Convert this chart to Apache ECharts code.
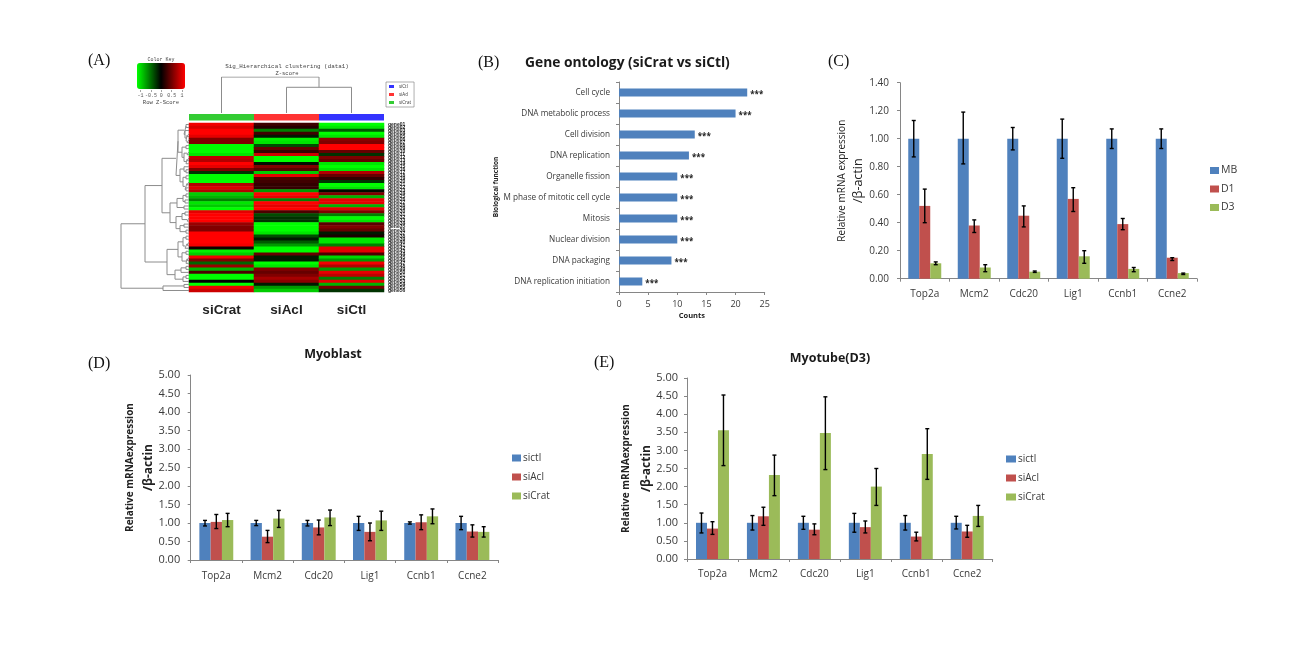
<!DOCTYPE html>
<html><head><meta charset="utf-8">
<style>html,body{margin:0;padding:0;background:#fff}#c{width:1295px;height:652px}</style>
<script src="https://cdn.jsdelivr.net/npm/echarts@6/dist/echarts.min.js"></script>
</head><body><div id="c"></div>
<script>
// ---------- Panel A data ----------
const heatColumns = ['siCrat','siAcl','siCtl'];
const heatCrat = [.95,.85,1,1,.9,.5,.5,-1,-1,-1,-.9,.75,.7,1,.9,.5,-.2,-1,-1,-1,.7,.85,.7,-.8,-.7,-.5,-.9,-.8,-1,.9,1,1,1,.6,.5,.5,1,1,1,1,.95,.05,-.95,-.8,.95,.5,-.4,.6,-.7,.3,-1,-1,0,-1,.95,.8];
const heatAcl = [.25,.15,-.5,.25,-.1,-.95,-.9,-.3,.4,.2,.8,-1,-1,-.05,.5,.35,-.8,.9,.3,.25,.2,.2,-.6,1,.9,-.5,1,.9,1,.3,-.3,-.2,-.2,-1,-1,-1,-.9,-.3,-.1,-.35,-.6,-1,-1,.4,-.1,-.1,-1,-.9,.5,.4,.5,.65,.55,-.1,-.6,-.8];
const heatCtl = [-1,-.9,-.35,-1,-.9,.55,.5,1,1,.4,-.2,.5,.4,-.9,-1,-.9,.7,.4,.2,-.2,-1,-.9,-.05,.5,-.7,.9,.9,-.7,.9,.5,-.5,-1,-.9,.35,.5,.4,-.1,.1,-.9,-.9,-.5,.9,.9,.3,-.85,-.6,.95,.7,-.6,.9,.75,-.5,.9,-.7,.45,-.2];
const rowNames = heatCrat.map((v,i)=>'gene'+String(i+1).padStart(2,'0'));
const groupNames = ['siCtl','siAcl','siCrat'];
const colorKeyTicks = [-1,-0.5,0,0.5,1];
// dendrogram trees: [merge height, child, child]; a bare number is a row index
const rowTree = [68,
  [44,
    [27,
      [13,
        [11,
          [5,[3,0,1],[4,2,[3,[2,3,4],[2,5,6]]]],
          [7,[3,7,8],[5,[2,9,10],[3,[2,11,12],13]]]],
        [9,[5,14,[3,15,16]],[6,[3,17,18],[4,[2,19,20],[3,21,22]]]]],
      [19,
        [12,[6,[3,23,24],[4,25,26]],[5,27,28]],
        [13,[7,[4,29,30],[2,31,32]],[9,[5,33,34],[3,35,36]]]]],
    [22,
      [11,[6,[3,37,38],[4,[2,39,40],41]],[7,[3,42,43],[3,[2,44,45],46]]],
      [14,[8,[3,47,48],49],[6,[3,50,51],52]]]],
  [26,[5,53,54],55]];
const colTree = [35,0,[25,1,2]];

// ---------- Panel B data ----------
const goTerms = ['Cell cycle','DNA metabolic process','Cell division','DNA replication','Organelle fission','M phase of mitotic cell cycle','Mitosis','Nuclear division','DNA packaging','DNA replication initiation'];
const goCounts = [22,20,13,12,10,10,10,10,9,4];

// ---------- Panels C, D, E data ----------
const genes = ['Top2a','Mcm2','Cdc20','Lig1','Ccnb1','Ccne2'];
const genesE = ['Top2a','Mcm2','Cdc20','Lig1','Ccnb1','Ccne2'];
const cNames = ['MB','D1','D3'];
const cMB = [1,1,1,1,1,1], cMBLow=[.87,.82,.92,.86,.93,.93], cMBHigh=[1.13,1.19,1.08,1.14,1.07,1.07];
const cD1 = [.52,.38,.45,.57,.39,.15], cD1Low=[.40,.33,.37,.48,.35,.13], cD1High=[.64,.42,.52,.65,.43,.15];
const cD3 = [.11,.08,.05,.16,.07,.04], cD3Low=[.10,.05,.045,.11,.05,.03], cD3High=[.12,.10,.055,.20,.08,.04];
const siNames = ['sictl','siAcl','siCrat'];
const dCtl = [1,1,1,1,1,1], dCtlLow=[.92,.93,.92,.80,.97,.82], dCtlHigh=[1.07,1.07,1.07,1.18,1.03,1.18];
const dAcl = [1.03,.63,.88,.76,1.02,.77], dAclLow=[.85,.47,.68,.52,.82,.62], dAclHigh=[1.23,.80,1.08,1.0,1.22,.95];
const dCrat = [1.08,1.12,1.15,1.07,1.18,.76], dCratLow=[.90,.88,.93,.80,.98,.62], dCratHigh=[1.26,1.34,1.35,1.32,1.38,.90];
const eCtl = [1,1,1,1,1,1], eCtlLow=[.72,.80,.82,.74,.80,.83], eCtlHigh=[1.27,1.20,1.18,1.26,1.20,1.18];
const eAcl = [.84,1.18,.81,.88,.62,.76], eAclLow=[.68,.93,.67,.72,.50,.60], eAclHigh=[1.03,1.43,.97,1.05,.74,.93];
const eCrat = [3.56,2.32,3.48,2.0,2.9,1.19], eCratLow=[2.58,1.75,2.47,1.48,2.2,.9], eCratHigh=[4.53,2.87,4.48,2.5,3.6,1.48];

// ---------- Styling ----------
const BLUE='#4f81bd', RED='#c0504d', GREEN='#9bbb59', AXIS='#868686', TXT='#3a3a3a';
const FONT='"Open Sans","Noto Sans",sans-serif';
const series=[], grids=[], xAxes=[], yAxes=[];
function addGrid(g,x,y){grids.push(g);const i=grids.length-1;xAxes.push(Object.assign({gridIndex:i},x));yAxes.push(Object.assign({gridIndex:i},y));return i;}
const hidden={type:'value',show:false,splitLine:{show:false}};

// tree -> line segments with null gaps
function treeSegs(tree,horizontalLeaves){
  const pts=[];
  (function walk(n){
    if(typeof n==='number') return {h:0,p:n+0.5};
    const a=walk(n[1]),b=walk(n[2]);
    const seg=[[a.h,a.p],[n[0],a.p],[n[0],b.p],[b.h,b.p]];
    seg.forEach(s=>pts.push(horizontalLeaves?[s[1],s[0]]:s));
    pts.push(['-','-']);
    return {h:n[0],p:(a.p+b.p)/2};
  })(tree);
  return pts;
}

// Panel A heatmap
const hm=addGrid({left:189,top:123,width:195,height:169},
 {type:'category',data:heatColumns,position:'bottom',axisLine:{show:false},axisTick:{show:false},splitLine:{show:false},
  axisLabel:{margin:11,color:'#222',fontFamily:'"Liberation Sans",sans-serif',fontWeight:'bold',fontSize:13.5}},
 {type:'category',data:rowNames,inverse:true,position:'right',axisLine:{show:false},axisTick:{show:false},splitLine:{show:false},
  axisLabel:{interval:0,margin:4,fontSize:5,color:'#1c1c1c',fontFamily:'"Liberation Sans",sans-serif',fontWeight:'bold'}});
const heatData=[];
[heatCrat,heatAcl,heatCtl].forEach((col,c)=>col.forEach((v,r)=>heatData.push([c,r,v])));
series.push({type:'heatmap',xAxisIndex:hm,yAxisIndex:hm,data:heatData,progressive:0,silent:true});
const heatIndex=series.length-1;

// Panel A dendrograms
const den=addGrid({left:121,top:123,width:68,height:169},Object.assign({},hidden,{min:0,max:68,inverse:true}),Object.assign({},hidden,{min:0,max:heatCrat.length,inverse:true}));
series.push({type:'line',xAxisIndex:den,yAxisIndex:den,data:treeSegs(rowTree,false),showSymbol:false,silent:true,lineStyle:{color:'#8c8c8c',width:1},connectNulls:false});
const denTop=addGrid({left:189,top:77,width:195,height:36},Object.assign({},hidden,{min:0,max:3}),Object.assign({},hidden,{min:0,max:35}));
series.push({type:'line',xAxisIndex:denTop,yAxisIndex:denTop,data:treeSegs(colTree,true),showSymbol:false,silent:true,lineStyle:{color:'#8c8c8c',width:1},connectNulls:false});

// Panel A colour strip (with legend)
const strip=addGrid({left:189,top:114,width:195,height:6.5},Object.assign({},hidden,{min:0,max:3}),{type:'category',data:['group'],show:false});
[['siCrat','#33cc33'],['siAcl','#ff3333'],['siCtl','#3333ff']].forEach(s=>series.push({type:'bar',name:s[0],stack:'strip',xAxisIndex:strip,yAxisIndex:strip,barWidth:'100%',data:[1],itemStyle:{color:s[1]},silent:true}));

// Colour key ticks
const keyGrid=addGrid({left:140.6,top:89,width:41.5,height:1},
 {type:'value',min:-1,max:1,interval:.5,axisLine:{show:false},axisTick:{show:true,length:2,lineStyle:{color:'#666',width:.6}},splitLine:{show:false},axisLabel:{fontSize:5,margin:3,color:'#555',fontFamily:'"Liberation Mono",monospace'}},
 Object.assign({},hidden));

// Panel B
const go=addGrid({left:619,top:82,width:145.7,height:210},
 {type:'value',min:0,max:25,interval:5,axisLine:{show:true,lineStyle:{color:AXIS}},axisTick:{show:true,length:3,lineStyle:{color:AXIS}},splitLine:{show:false},
  axisLabel:{fontSize:9,margin:8,color:TXT,fontFamily:FONT},name:'Counts',nameLocation:'middle',nameGap:20,nameTextStyle:{fontSize:7.5,fontWeight:'bold',color:'#222',fontFamily:FONT}},
 {type:'category',data:goTerms,inverse:true,axisLine:{show:true,lineStyle:{color:AXIS}},axisTick:{show:true,length:3,lineStyle:{color:AXIS}},splitLine:{show:false},
  axisLabel:{interval:0,fontSize:8.2,margin:9,color:TXT,fontFamily:FONT},name:'Biological function',nameLocation:'middle',nameGap:116,nameRotate:90,nameTextStyle:{fontSize:6.5,fontWeight:'bold',color:'#222',fontFamily:FONT}});
series.push({type:'bar',xAxisIndex:go,yAxisIndex:go,data:goCounts,barWidth:8,itemStyle:{color:BLUE},
 label:{show:true,position:'right',distance:3,formatter:'***',fontSize:8,fontWeight:'bold',color:'#222',offset:[0,2],fontFamily:FONT}});

// Error-bar grouped bar panels
function errRender(k,bw){
  return function(params,api){
    const x=api.coord([api.value(0),0])[0]+(k-1)*bw;
    const lo=api.coord([api.value(0),api.value(1)])[1], hi=api.coord([api.value(0),api.value(2)])[1];
    const st={stroke:'#000',lineWidth:1.4};
    return {type:'group',children:[
      {type:'line',shape:{x1:x,y1:lo,x2:x,y2:hi},style:st},
      {type:'line',shape:{x1:x-2,y1:lo,x2:x+2,y2:lo},style:st},
      {type:'line',shape:{x1:x-2,y1:hi,x2:x+2,y2:hi},style:st}]};
  };
}
function barPanel(g,cats,names,vals,lows,highs,yOpt,nameOpt,labelSize,labelMargin,catMargin,bw){
  const idx=addGrid(g,
   {type:'category',data:cats,axisLine:{show:true,lineStyle:{color:AXIS}},axisTick:{show:true,length:3,lineStyle:{color:AXIS}},splitLine:{show:false},
    axisLabel:{interval:0,fontSize:10,margin:catMargin,color:TXT,fontFamily:FONT}},
   Object.assign({type:'value',min:0,axisLine:{show:true,lineStyle:{color:AXIS}},axisTick:{show:true,length:3,lineStyle:{color:AXIS}},splitLine:{show:false},
    axisLabel:{fontSize:labelSize,margin:labelMargin,color:TXT,fontFamily:FONT,formatter:v=>v.toFixed(2)},nameLocation:'middle',nameRotate:90},yOpt,nameOpt));
  const cols=[BLUE,RED,GREEN];
  names.forEach((n,k)=>{
    series.push({type:'bar',name:n,xAxisIndex:idx,yAxisIndex:idx,data:vals[k],barWidth:bw,barGap:0,itemStyle:{color:cols[k]},silent:true});
  });
  names.forEach((n,k)=>{
    series.push({type:'custom',xAxisIndex:idx,yAxisIndex:idx,silent:true,z:5,renderItem:errRender(k,bw),encode:{x:0,y:[1,2]},
      data:cats.map((c,i)=>[i,lows[k][i],highs[k][i]])});
  });
}
const nameC={name:'{a|Relative mRNA expression}\n{b|/β-actin}',nameGap:29,nameTextStyle:{fontFamily:FONT,color:'#222',rich:{a:{fontSize:10,lineHeight:17,fontFamily:FONT,color:'#222'},b:{fontSize:12.5,lineHeight:17,fontFamily:FONT,color:'#222'}}}};
const nameD=(gap,lh)=>({name:'{a|Relative mRNAexpression}\n{b|/β-actin}',nameGap:gap,nameTextStyle:{fontFamily:FONT,color:'#222',rich:{a:{fontSize:10,fontWeight:'bold',lineHeight:lh,fontFamily:FONT,color:'#222'},b:{fontSize:12,fontWeight:'bold',lineHeight:lh,fontFamily:FONT,color:'#222'}}}});
barPanel({left:900,top:82.7,width:297,height:196},genes,cNames,[cMB,cD1,cD3],[cMBLow,cD1Low,cD3Low],[cMBHigh,cD1High,cD3High],{max:1.4,interval:.2},nameC,10,11,10,11);
barPanel({left:190.7,top:375,width:307.3,height:185},genes,siNames,[dCtl,dAcl,dCrat],[dCtlLow,dAclLow,dCratLow],[dCtlHigh,dAclHigh,dCratHigh],{max:5,interval:.5},nameD(33,18),11,10.5,11,11.3);
barPanel({left:687,top:378,width:305.7,height:181},genesE,siNames,[eCtl,eAcl,eCrat],[eCtlLow,eAclLow,eCratLow],[eCtlHigh,eAclHigh,eCratHigh],{max:5,interval:.5},nameD(25,20),11,9,10,11);

// Text
function t(text,left,top,size,opt){return {text,left,top,textAlign:(opt&&opt.align)||'left',textVerticalAlign:'middle',padding:0,textStyle:Object.assign({fontSize:size,color:'#222',fontWeight:'normal',fontFamily:FONT},opt&&opt.style)};}
const SER={fontFamily:'"Liberation Serif",serif',color:'#111'}, MONO={fontFamily:'"Liberation Mono",monospace',color:'#444'};
const titles=[
 t('(A)',88,61,16,{style:SER}), t('(B)',478,63,16,{style:SER}), t('(C)',828,62,16,{style:SER}), t('(D)',88,364,16,{style:SER}), t('(E)',594,363,16,{style:SER}),
 t('Gene ontology (siCrat vs siCtl)',525,63,13.8,{style:{fontWeight:'bold',color:'#1a1a1a'}}),
 t('Myoblast',333,354,12.5,{align:'center',style:{fontWeight:'bold',color:'#1a1a1a'}}),
 t('Myotube(D3)',830,358,12.5,{align:'center',style:{fontWeight:'bold',color:'#1a1a1a'}}),
 t('Sig_Hierarchical clustering (data1)',287,66,5.9,{align:'center',style:MONO}),
 t('Z-score',287,74,5.5,{align:'center',style:MONO}),
 t('Color Key',161,60,5,{align:'center',style:MONO}),
 t('Row Z-Score',161,103,5.5,{align:'center',style:MONO})
];
function lg(names,left,top,size,w,h,gap){
  const cols=[BLUE,RED,GREEN];
  return {data:names.map((n,i)=>({name:n,itemStyle:{color:cols[i]}})),orient:'vertical',left,top,itemWidth:w,itemHeight:h,itemGap:gap,padding:0,selectedMode:false,icon:'rect',textStyle:{fontSize:size,color:TXT,fontFamily:FONT,padding:[0,0,0,-3]}};
}
const legends=[
 lg(['MB','D1','D3'],1210,165,10.5,9,7,7.5),
 lg(siNames,512,453,10,9,7,9),
 lg(siNames,1006,454,10,10,7,9),
 {data:groupNames,orient:'vertical',left:386,top:82,itemWidth:5,itemHeight:3,itemGap:3,padding:[2,3],selectedMode:false,icon:'rect',borderColor:'#777',borderWidth:.6,textStyle:{fontSize:4.5,color:'#333',fontFamily:FONT}}
];

const chart=echarts.init(document.getElementById('c'),null,{renderer:'canvas'});
chart.setOption({
 animation:false,backgroundColor:'#fff',
 title:titles,legend:legends,grid:grids,xAxis:xAxes,yAxis:yAxes,series,
 visualMap:{type:'continuous',seriesIndex:heatIndex,min:-1,max:1,orient:'horizontal',left:137,top:63,itemWidth:26,itemHeight:48,padding:0,text:null,calculable:false,hoverLink:false,realtime:false,showLabel:false,
   inRange:{color:['#00ff00','#000000','#ff0000']},textStyle:{fontSize:1,color:'#fff'}}
});
</script></body></html>
